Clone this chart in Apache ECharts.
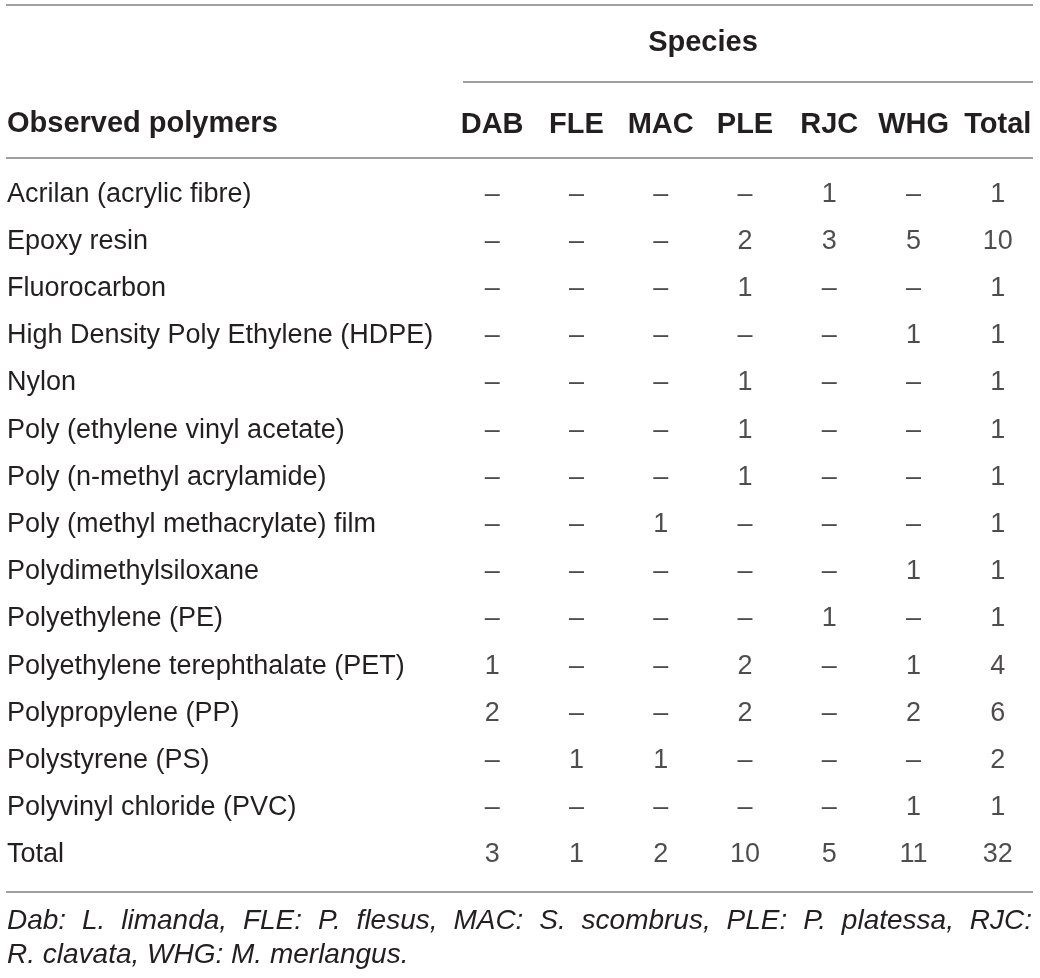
<!DOCTYPE html>
<html>
<head>
<meta charset="utf-8">
<title>Observed polymers by species</title>
<script src="https://cdn.jsdelivr.net/npm/echarts@6/dist/echarts.min.js"></script>
<style>
  html, body { margin: 0; padding: 0; background: #fff; }
  #main { width: 1040px; height: 978px; }
</style>
</head>
<body>
<div id="main"></div>
<script>
// column headers and row labels
var columns = ['DAB', 'FLE', 'MAC', 'PLE', 'RJC', 'WHG', 'Total'];
var polymers = [
  'Acrilan (acrylic fibre)',
  'Epoxy resin',
  'Fluorocarbon',
  'High Density Poly Ethylene (HDPE)',
  'Nylon',
  'Poly (ethylene vinyl acetate)',
  'Poly (n-methyl acrylamide)',
  'Poly (methyl methacrylate) film',
  'Polydimethylsiloxane',
  'Polyethylene (PE)',
  'Polyethylene terephthalate (PET)',
  'Polypropylene (PP)',
  'Polystyrene (PS)',
  'Polyvinyl chloride (PVC)',
  'Total'
];

// counts per species (null = none observed, shown as a dash)
var dab   = [null, null, null, null, null, null, null, null, null, null, 1, 2, null, null, 3];
var fle   = [null, null, null, null, null, null, null, null, null, null, null, null, 1, null, 1];
var mac   = [null, null, null, null, null, null, null, 1, null, null, null, null, 1, null, 2];
var ple   = [null, 2, 1, null, 1, 1, 1, null, null, null, 2, 2, null, null, 10];
var rjc   = [1, 3, null, null, null, null, null, null, null, 1, null, null, null, null, 5];
var whg   = [null, 5, null, 1, null, null, null, null, 1, null, 1, 2, null, 1, 11];
var total = [1, 10, 1, 1, 1, 1, 1, 1, 1, 1, 4, 6, 2, 1, 32];

var groupTitle = 'Species';
var rowHeader = 'Observed polymers';
var footLine1 = 'Dab: L. limanda, FLE: P. flesus, MAC: S. scombrus, PLE: P. platessa, RJC:';
var footLine2 = 'R. clavata, WHG: M. merlangus.';

var FONT = '"Liberation Sans", Arial, Helvetica, sans-serif';
var INK = '#231f20';
var RULE = '#808080';
var SIZE = 27;
var HEAD_SIZE = 29;

var colValues = [dab, fle, mac, ple, rjc, whg, total];

// 文字两端对齐: measure each word and spread the gaps
var measureCtx = document.createElement('canvas').getContext('2d');
function justified(text, x0, x1, y, font) {
  measureCtx.font = font;
  var words = text.split(' ');
  var widths = words.map(function (w) { return measureCtx.measureText(w).width; });
  var sum = widths.reduce(function (a, b) { return a + b; }, 0);
  var gap = (x1 - x0 - sum) / (words.length - 1);
  var x = x0;
  return words.map(function (w, i) {
    var el = {
      type: 'text', x: x, y: y,
      style: { text: w, font: font, fill: INK, textVerticalAlign: 'middle' }
    };
    x += widths[i] + gap;
    return el;
  });
}

function rule(x1, y, x2) {
  return {
    type: 'line',
    shape: { x1: x1, y1: y, x2: x2, y2: y },
    style: { stroke: RULE, lineWidth: 1.3 }
  };
}

var italicFont = 'italic 28px ' + FONT;
var boldFont = 'bold ' + HEAD_SIZE + 'px ' + FONT;

var graphics = [
  rule(6, 5, 1033),
  rule(463, 82, 1033),
  rule(6, 158, 1033),
  rule(6, 892, 1033),
  {
    type: 'text', x: 703, y: 43,
    style: { text: groupTitle, font: boldFont, fill: INK,
             textAlign: 'center', textVerticalAlign: 'middle' }
  },
  {
    type: 'text', x: 7, y: 124,
    style: { text: rowHeader, font: boldFont, fill: INK, textVerticalAlign: 'middle' }
  },
  {
    type: 'text', x: 7, y: 955,
    style: { text: footLine2, font: italicFont, fill: INK, textVerticalAlign: 'middle' }
  }
].concat(justified(footLine1, 7, 1032, 921, italicFont));

var series = columns.map(function (name, c) {
  return {
    name: name,
    type: 'scatter',
    symbolSize: 0,
    silent: true,
    data: colValues[c].map(function (v, r) { return [c, r, v]; }),
    label: {
      show: true,
      position: 'inside',
      color: INK,
      fontFamily: FONT,
      fontSize: SIZE,
      formatter: function (p) { return p.value[2] == null ? '\u2013' : String(p.value[2]); }
    }
  };
});

var chart = echarts.init(document.getElementById('main'), null, { renderer: 'canvas' });
chart.setOption({
  animation: false,
  backgroundColor: '#fff',
  grid: { left: 450, width: 592, top: 170.5, height: 708 },
  xAxis: {
    type: 'category',
    position: 'top',
    data: columns,
    axisLine: { show: false },
    axisTick: { show: false },
    splitLine: { show: false },
    axisLabel: {
      interval: 0,
      hideOverlap: false,
      margin: 46,
      verticalAlign: 'middle',
      color: INK,
      fontFamily: FONT,
      fontWeight: 'bold',
      fontSize: HEAD_SIZE
    }
  },
  yAxis: {
    type: 'category',
    inverse: true,
    data: polymers,
    axisLine: { show: false },
    axisTick: { show: false },
    splitLine: { show: false },
    axisLabel: {
      interval: 0,
      margin: 443,
      align: 'left',
      color: INK,
      fontFamily: FONT,
      fontSize: SIZE
    }
  },
  graphic: graphics,
  series: series
});
</script>
</body>
</html>
